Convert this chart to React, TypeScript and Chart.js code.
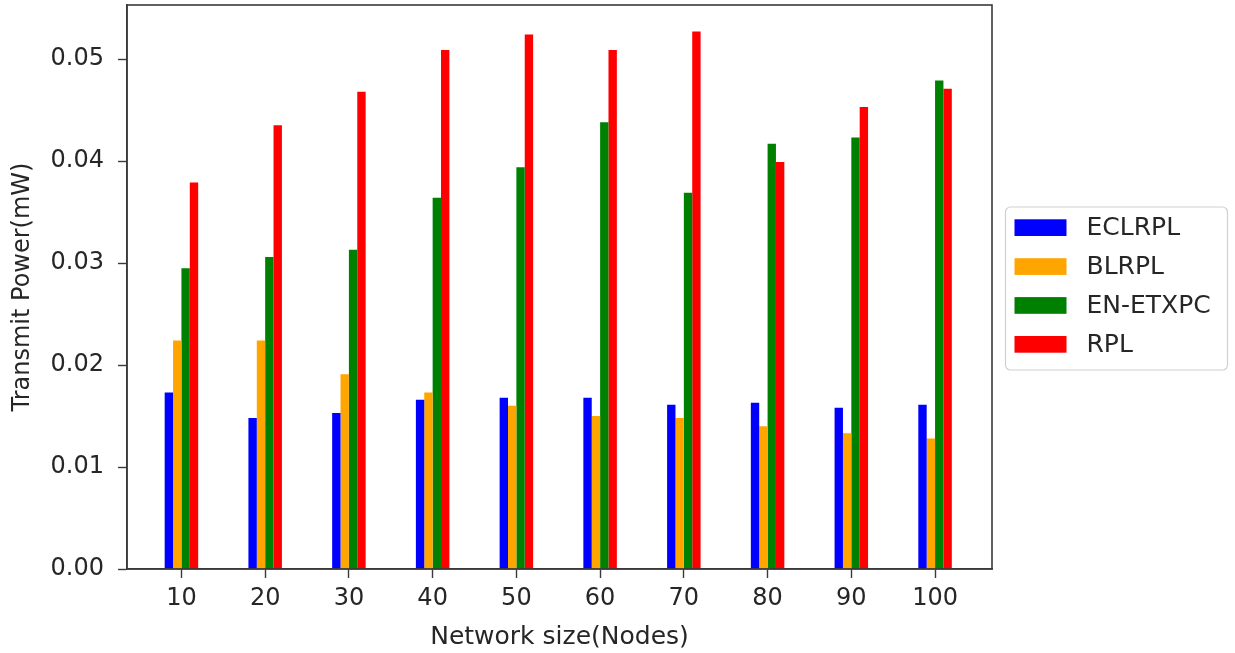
import React, { useEffect, useRef } from "react";
import { Chart, registerables } from "chart.js";

Chart.register(...registerables);

const categories = [10, 20, 30, 40, 50, 60, 70, 80, 90, 100];
const seriesNames = ["ECLRPL", "BLRPL", "EN-ETXPC", "RPL"];
const seriesColors = ["#0000ff", "#ffa500", "#008000", "#ff0000"];
const eclrpl = [0.0173, 0.0148, 0.0153, 0.0166, 0.0168, 0.0168, 0.0161, 0.0163, 0.0158, 0.0161];
const blrpl = [0.0224, 0.0224, 0.0191, 0.0173, 0.016, 0.015, 0.0148, 0.014, 0.0133, 0.0128];
const enetxpc = [0.0295, 0.0306, 0.0313, 0.0364, 0.0394, 0.0438, 0.0369, 0.0417, 0.0423, 0.0479];
const rpl = [0.0379, 0.0435, 0.0468, 0.0509, 0.0524, 0.0509, 0.0527, 0.0399, 0.0453, 0.0471];
const yTicks = [0, 0.01, 0.02, 0.03, 0.04, 0.05];

const FONT = "'DejaVu Sans', sans-serif";
const TEXT = "#262626";
const AXIS = "#3a3a3a";

const framePlugin = {
  id: "frame",
  afterDatasetsDraw(chart: any) {
    const { ctx, chartArea } = chart;
    ctx.save();
    ctx.strokeStyle = AXIS;
    ctx.lineWidth = 1.6;
    ctx.strokeRect(chartArea.left, chartArea.top, chartArea.right - chartArea.left, chartArea.bottom - chartArea.top);
    ctx.restore();
  },
};

const sideLegendPlugin = {
  id: "sideLegend",
  afterDraw(chart: any) {
    const { ctx, chartArea } = chart;
    const boxW = 222;
    const boxH = 163;
    const left = chartArea.right + 13.5;
    const cy = (chartArea.top + chartArea.bottom) / 2 + 1.5;
    const top = cy - boxH / 2;
    ctx.save();
    ctx.fillStyle = "rgba(255,255,255,0.8)";
    ctx.strokeStyle = "#d0d0d0";
    ctx.lineWidth = 1.2;
    ctx.beginPath();
    if ((ctx as any).roundRect) (ctx as any).roundRect(left, top, boxW, boxH, 5);
    else ctx.rect(left, top, boxW, boxH);
    ctx.fill();
    ctx.stroke();
    ctx.font = `25px ${FONT}`;
    ctx.textBaseline = "middle";
    ctx.textAlign = "left";
    chart.data.datasets.forEach((ds: any, i: number) => {
      const rowY = top + 20.6 + i * 38.9;
      ctx.fillStyle = ds.backgroundColor;
      ctx.fillRect(left + 9, rowY - 8.3, 52, 16.7);
      ctx.fillStyle = TEXT;
      ctx.fillText(ds.label, left + 81, rowY + 1);
    });
    ctx.restore();
  },
};

export default function App() {
  const canvasRef = useRef<HTMLCanvasElement | null>(null);

  useEffect(() => {
    if (!canvasRef.current) return;
    const seriesValues = [eclrpl, blrpl, enetxpc, rpl];
    const chart = new Chart(canvasRef.current, {
      type: "bar",
      data: {
        datasets: seriesValues.map((vals, i) => ({
          label: seriesNames[i],
          data: categories.map((c, j) => ({ x: c, y: vals[j] })),
          backgroundColor: seriesColors[i],
          borderWidth: 0,
          categoryPercentage: 0.4,
          barPercentage: 1.0,
        })),
      },
      options: {
        responsive: false,
        animation: false,
        events: [],
        layout: { padding: { left: 0, top: 5, right: 243, bottom: 0 } },
        plugins: {
          legend: { display: false },
          tooltip: { enabled: false },
        },
        scales: {
          x: {
            type: "linear",
            min: 3.5,
            max: 106.8,
            offset: false,
            grid: {
              display: true,
              drawOnChartArea: false,
              drawTicks: true,
              tickLength: 9,
              tickColor: AXIS,
              tickWidth: 1.4,
              offset: false,
            },
            border: { display: true, color: AXIS, width: 1.6 },
            afterBuildTicks: (axis: any) => {
              axis.ticks = categories.map((v) => ({ value: v }));
            },
            ticks: {
              autoSkip: false,
              maxRotation: 0,
              padding: 6,
              color: TEXT,
              font: { family: FONT, size: 24 },
              callback: (v: any) => String(v),
            },
            title: {
              display: true,
              text: "Network size(Nodes)",
              color: TEXT,
              font: { family: FONT, size: 25 },
              padding: { top: 0, bottom: 1 },
            },
            afterFit: (scale: any) => {
              scale.height = 84;
              scale.paddingLeft = 0;
              scale.paddingRight = 0;
            },
          },
          y: {
            type: "linear",
            min: 0,
            max: 0.0553,
            grid: {
              display: true,
              drawOnChartArea: false,
              drawTicks: true,
              tickLength: 9,
              tickColor: AXIS,
              tickWidth: 1.4,
            },
            border: { display: true, color: AXIS, width: 1.6 },
            afterBuildTicks: (axis: any) => {
              axis.ticks = yTicks.map((v) => ({ value: v }));
            },
            ticks: {
              padding: 14,
              color: TEXT,
              font: { family: FONT, size: 24 },
              callback: (v: any) => Number(v).toFixed(2),
            },
            title: {
              display: true,
              text: "Transmit Power(mW)",
              color: TEXT,
              font: { family: FONT, size: 24 },
              padding: { top: 8, bottom: 0 },
            },
            afterFit: (scale: any) => {
              scale.width = 127;
              scale.paddingTop = 0;
              scale.paddingBottom = 0;
            },
          },
        },
      },
      plugins: [framePlugin, sideLegendPlugin],
    } as any);
    return () => chart.destroy();
  }, []);

  return (
    <div style={{ position: "fixed", left: 0, top: 0, width: 1235, height: 653, background: "#fff" }}>
      <canvas ref={canvasRef} width={1235} height={653} style={{ display: "block" }} />
    </div>
  );
}
